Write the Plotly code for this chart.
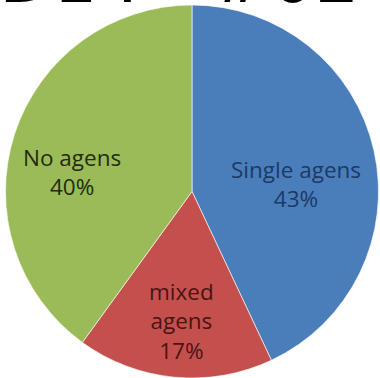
import plotly.graph_objects as go

# Share of treatments by agent type
categories = ["Single agens", "mixed agens", "No agens"]
label_lines = ["Single agens", "mixed<br>agens", "No agens"]
values = [43, 17, 40]

slice_colors = ["#4a7ebb", "#c4504d", "#9bbb59"]
text_colors = ["#1b3a66", "#4a1414", "#222c0c"]
# label centres in pixels (x, y from top)
label_px = [(296, 184), (181, 321), (72, 172)]

W, H = 380, 378

fig = go.Figure(
    go.Pie(
        labels=categories,
        values=values,
        sort=False,
        direction="clockwise",
        rotation=0,
        marker=dict(colors=slice_colors, line=dict(color="rgba(255,255,255,0.6)", width=1)),
        textinfo="none",
        hoverinfo="label+percent",
        domain=dict(x=[5 / W, 379 / W], y=[0, 1 - 5 / H]),
        showlegend=False,
    )
)

total = sum(values)
annotations = []
for lines, v, col, (px, py) in zip(label_lines, values, text_colors, label_px):
    pct = round(100 * v / total)
    annotations.append(
        dict(
            text=f"{lines}<br>{pct}%",
            x=px / W,
            y=1 - py / H,
            xref="paper",
            yref="paper",
            xanchor="center",
            yanchor="middle",
            showarrow=False,
            font=dict(family="Open Sans", size=22.5, color=col),
        )
    )

# heading cut off at the top edge
annotations.append(
    dict(
        text="D14 - #02",
        x=-3 / W,
        y=1 - 21.5 / H,
        xref="paper",
        yref="paper",
        xanchor="left",
        yanchor="bottom",
        showarrow=False,
        font=dict(family="DejaVu Sans", size=70, color="#000000"),
    )
)

fig.update_layout(
    width=W,
    height=H,
    margin=dict(l=0, r=0, t=0, b=0),
    paper_bgcolor="#ffffff",
    plot_bgcolor="#ffffff",
    annotations=annotations,
)

fig.write_html("out.html")
